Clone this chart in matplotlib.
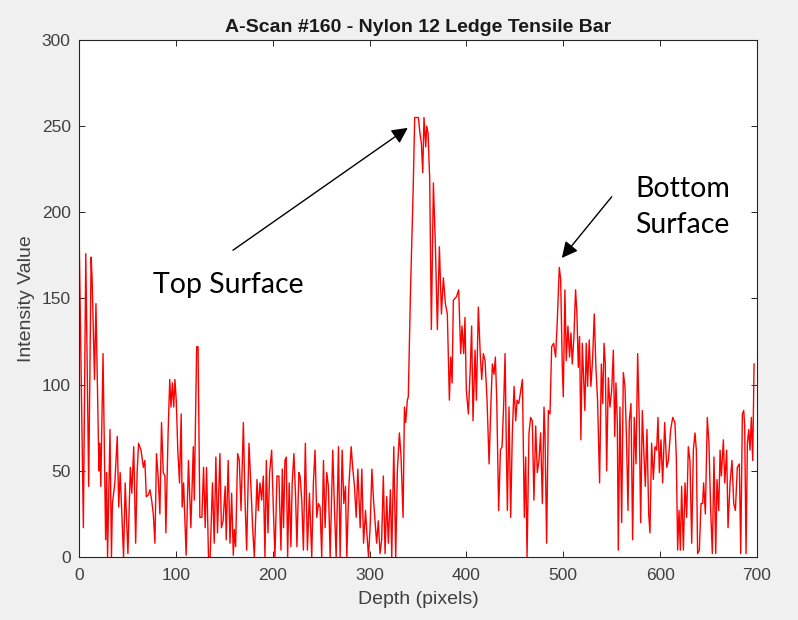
import matplotlib
matplotlib.use("Agg")
import matplotlib.pyplot as plt

# ---- data (depth in pixels, intensity value) ----
depth = [
    0, 4.5, 7, 10, 12.5, 13.5, 16, 17.5, 20.6, 21.5, 22.5, 24.8, 27.5, 28.5, 29.5,
    32, 33.5, 34.5, 37, 39.5, 41, 42.5, 46, 47.7, 50.5, 53, 54.5, 56.5, 58.5, 60,
    61.5, 64, 66.5, 68, 69.5, 71.5,
    73.3, 75, 76.7, 78.4, 80, 81.8, 83.5, 85.2, 87, 88.7, 89.7, 92, 93.7, 95, 96.4,
    97.8, 99, 100.4, 102, 103.8, 105.5, 106.5, 108, 110.6, 113, 115.5, 118, 119,
    121.5, 122.9, 124.8, 126.9, 128.6, 130.3, 131.7, 133.7, 135.4, 137.8, 139.6,
    141.3, 143, 145.5, 147, 148.8, 150.9,
    152, 154, 155.9, 157.6, 159.3, 160.4, 161.7, 163.8, 165.5, 167.3, 169.7, 171.4,
    173.1, 175.5, 177.5, 179.3, 181, 183.8, 185.1, 186.8, 188.6, 190.3, 192, 193.4,
    195.1, 196.8, 198.9, 200.6, 202.3, 204.4, 206.4, 208.5, 209.9, 211.2, 212.6,
    214, 215.4, 217, 218.8, 220.1, 221.9, 223.6, 225, 227,
    228.2, 230, 231.7, 233.7, 235.8, 237.9, 240.3, 242, 243.7, 245.5, 247.2, 248.9,
    250.6, 252.4, 254.1, 255.8, 257.5, 259.3, 262, 263.7, 265.5, 267.9, 269.6,
    271.7, 273.4, 275.1, 276.5, 278.6, 281, 282.7, 284.4, 286.2, 287.9, 290.3, 292,
    293.8, 295.8, 297.2, 298.9, 300.7, 302.4, 304.1,
    307.3, 309, 310.8, 312.5, 314.2, 316, 317.7, 319.4, 321.5, 322.9, 325, 327,
    328.7, 330.8, 332.5, 334.6, 336, 337.3, 339, 340, 342.2, 345, 346.6, 350.4, 352,
    353.5, 354.9, 356.2, 358, 359, 360.4, 362.1, 363.8, 365.9, 368, 370, 372.1,
    374.2, 376.2, 378.3, 380.3, 382.4, 383.8, 385.2, 386.5,
    389.7, 392, 394.1, 395.4, 397.2, 398.5, 399.9, 402, 404, 405.4, 406.8, 408.9,
    410.3, 412.3, 414.4, 415.8, 417.5, 419.2, 421.3, 423.4, 425.4, 426.8, 428.5,
    429.9, 431.3, 433.3, 435.1, 436.8, 438.5, 439.9, 441.2, 442.3, 444, 445.7,
    447.4, 449.2, 450.9, 452.3, 454, 455.7, 457.8, 459.8, 461.2, 462.6,
    464.6, 466.3, 468, 469.7, 471.5, 473.2, 474.9, 476.6, 478.4, 480.1, 481.1,
    482.8, 484.6, 486.3, 488, 490.1, 492.1, 493.8, 495.9, 497.3, 499, 500, 501.7,
    503.1, 504.8, 506.5, 507.9, 509.3, 511, 512.7, 514.1, 515.5, 516.8, 518.2,
    519.6, 521, 522.3, 523.7, 525.1, 526.8, 528.5, 530.2, 532, 533.7, 535.4, 537.5,
    539.3, 540.7, 542.1, 543.4, 544.8, 546.5, 548.2, 550, 551.7, 553.1, 554.4,
    555.8, 556.8, 558.5, 560.3, 562, 563.7, 565.4, 566.8, 568.2, 569.9, 571.6,
    573.3, 575.1, 576.8, 578.5, 579.9, 581.6, 583.4, 584.7, 586.4, 588.2, 589.5,
    591.2, 593, 594.7, 596.4, 597.8, 599.2, 600.9, 602.6, 604.7, 606.8, 608.5,
    610.9, 613,
    615.3, 616.7, 618.1, 619.5, 620.9, 622.2, 624, 625.7, 627.4, 629.1, 630.8,
    632.6, 634.3, 636, 637.4, 638.7, 640.5, 642.2, 643.9, 644.9, 646.7, 648.7,
    650.4, 652.2, 653.9, 655.6, 657.4, 658.7, 660.5, 661.9, 663.2, 665.3, 666.7,
    668.7, 670.1, 672.2, 674.2, 676, 677.7, 679.7, 681.8, 683.2, 684.9, 686.3,
    687.3, 688.7, 690.1, 691.5, 692.8, 694.2, 695.6, 697,
]
intensity = [
    193, 17, 176, 41, 174, 162, 103, 147, 50, 66, 41, 118, 10, 49, 0,
    74, 0, 31, 43, 70, 29, 49, 0, 43, 2, 52, 37, 64, 8, 49,
    66, 62, 52, 56, 35, 36,
    39, 33, 25, 8, 60, 46, 25, 78, 49, 47, 14, 72, 103, 87, 101,
    87, 103, 91, 62, 43, 83, 29, 43, 1, 56, 17, 64, 33,
    122, 122, 23, 23, 52, 17, 52, 0, 0, 43, 8,
    58, 14, 60, 17, 21, 41,
    10, 56, 8, 37, 1, 16, 6, 60, 56, 27, 78, 33,
    4, 66, 41, 17, 0, 45, 27, 43, 33, 47, 0, 56,
    14, 49, 62, 29, 0, 47, 47, 4, 51, 17, 56,
    58, 0, 43, 6, 43, 60, 35, 6, 49,
    47, 33, 4, 66, 4, 37, 0, 43, 62, 23, 31, 29,
    0, 56, 17, 49, 41, 0, 62, 29, 0, 64, 0,
    62, 31, 41, 0, 41, 64, 51, 41, 23, 51, 17, 51,
    8, 27, 14, 0, 19, 51, 33,
    8, 21, 2, 10, 47, 2, 35, 8, 39, 0, 64, 0,
    50, 72, 58, 23, 87, 78, 91, 93, 153, 213, 255, 255, 246,
    240, 223, 255, 238, 250, 246, 219, 132, 217, 180, 132, 180,
    141, 162, 147, 141, 91, 116, 101, 149,
    151, 155, 118, 134, 118, 139, 97, 83, 110, 134, 79, 120,
    91, 145, 116, 103, 118, 114, 91, 54, 91, 112, 106,
    116, 91, 27, 62, 64, 89, 118, 64, 27, 87, 23,
    72, 99, 79, 91, 89, 95, 103, 23, 58, 0,
    72, 81, 79, 33, 76, 49, 56, 72, 31, 87, 72,
    8, 85, 83, 122, 124, 116, 137, 168, 161, 110, 93, 155,
    114, 134, 116, 130, 112, 128, 155, 141, 110, 128, 68,
    124, 104, 85, 124, 99, 126, 99, 114, 141, 110, 91, 43,
    112, 89, 124, 112, 50, 104, 87, 97, 120, 70, 101,
    78, 4, 87, 20, 107, 99, 66, 27, 79, 89, 10,
    81, 54, 118, 78, 20, 85, 58, 41, 74, 25, 14,
    66, 45, 64, 62, 81, 49, 68, 43, 78, 52, 56,
    74, 81,
    78, 58, 4, 27, 4, 41, 4, 43, 23, 64, 56,
    8, 62, 72, 62, 2, 4, 31, 31, 43, 25, 81,
    66, 27, 2, 58, 2, 45, 27, 62, 47, 68, 43,
    62, 17, 43, 56, 31, 27, 52, 54, 2, 83, 85,
    76, 2, 66, 74, 62, 81, 56, 112,
]

title_text = "A-Scan #160 - Nylon 12 Ledge Tensile Bar"
x_label = "Depth (pixels)"
y_label = "Intensity Value"
x_ticks = [0, 100, 200, 300, 400, 500, 600, 700]
y_ticks = [0, 50, 100, 150, 200, 250, 300]

# ---- figure ----
plt.rcParams['font.family'] = ['Liberation Sans', 'DejaVu Sans']
fig = plt.figure(figsize=(7.98, 6.2), dpi=100, facecolor='#f0f0f0')
ax = fig.add_axes([0.099, 0.1016, 0.8496, 0.834])
ax.set_facecolor('white')

ax.plot(depth, intensity, color='#ff0000', linewidth=1.0)

ax.set_xlim(0, 700)
ax.set_ylim(0, 300)
ax.set_xticks(x_ticks)
ax.set_yticks(y_ticks)

grey = '#262626'
for s in ax.spines.values():
    s.set_color(grey)
    s.set_linewidth(0.8)
ax.tick_params(direction='in', top=True, right=True, length=4, width=0.7,
               colors=grey, labelsize=12.5, labelcolor='#404040')
ax.tick_params(axis='x', pad=8)
ax.tick_params(axis='y', pad=6)

ax.set_title(title_text, fontsize=14, fontweight='bold', color='#1a1a1a', pad=6)
ax.set_xlabel(x_label, fontsize=14, color='#404040', labelpad=6)
ax.set_ylabel(y_label, fontsize=14, color='#404040', labelpad=5)

# ---- annotations ----
afont = ['Lato', 'DejaVu Sans']
ax.annotate('', xy=(339.5, 249), xytext=(159, 178),
            arrowprops=dict(arrowstyle='-|>', color='black', lw=1.0,
                            mutation_scale=24, shrinkA=0, shrinkB=0))
ax.text(76.5, 158, 'Top Surface', fontsize=20.5, family=afont,
        ha='left', va='center', color='black')

ax.annotate('', xy=(498.5, 173.5), xytext=(550, 209),
            arrowprops=dict(arrowstyle='-|>', color='black', lw=1.0,
                            mutation_scale=24, shrinkA=0, shrinkB=0))
ax.text(574, 203, 'Bottom\nSurface', fontsize=20.5, family=afont,
        ha='left', va='center', color='black', linespacing=1.45)

fig.savefig('out.png', dpi=100, facecolor=fig.get_facecolor())
